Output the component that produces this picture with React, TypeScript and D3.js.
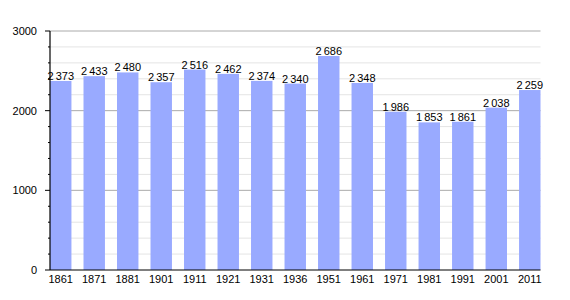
import React from "react";
import * as d3 from "d3";

const years = ["1861","1871","1881","1901","1911","1921","1931","1936","1951","1961","1971","1981","1991","2001","2011"];
const population = [2373,2433,2480,2357,2516,2462,2374,2340,2686,2348,1986,1853,1861,2038,2259];
const majorTicks = [0,1000,2000,3000];
const minorTicks = d3.range(0, 3001, 200);

export default function App() {
  const W = 570, H = 300;
  const left = 50, right = 540.5, top = 31, bottom = 270;
  const x = d3.scaleBand<string>().domain(years).range([left, right]).paddingInner(0.36).paddingOuter(0);
  const y = d3.scaleLinear().domain([0, 3000]).range([bottom, top]);
  const fmt = (v: number) => d3.format(",")(v).replace(",", "\u2009");
  const font = "'Liberation Sans', Arial, sans-serif";
  return (
    <svg width={W} height={H} style={{ position: "absolute", left: 0, top: 0 }} fontFamily={font}>
      <rect width={W} height={H} fill="#fff" />
      {minorTicks.filter(v => v % 1000 !== 0).map(v => (
        <line key={"g" + v} x1={left} x2={right} y1={y(v)} y2={y(v)} stroke="#e4e4e4" strokeWidth={1} />
      ))}
      {majorTicks.filter(v => v !== 0).map(v => (
        <line key={"M" + v} x1={left} x2={right} y1={y(v)} y2={y(v)} stroke="#aaaaaa" strokeWidth={1} />
      ))}
      {years.map((yr, i) => (
        <rect key={yr} x={x(yr)!} width={x.bandwidth()} y={y(population[i])} height={bottom - y(population[i])} fill="#99aaff" />
      ))}
      {years.map((yr, i) => (
        <text key={"v" + yr} x={x(yr)! + x.bandwidth() / 2} y={y(population[i]) - 1} textAnchor="middle" fontSize={11} fill="#000">
          {fmt(population[i])}
        </text>
      ))}
      {minorTicks.filter(v => v % 1000 !== 0).map(v => (
        <line key={"mt" + v} x1={48} x2={left} y1={y(v)} y2={y(v)} stroke="#000" strokeWidth={1} />
      ))}
      {majorTicks.map(v => (
        <line key={"Mt" + v} x1={45} x2={left} y1={y(v)} y2={y(v)} stroke="#000" strokeWidth={1} />
      ))}
      {majorTicks.map(v => (
        <text key={"yl" + v} x={37} y={y(v) + 4} textAnchor="end" fontSize={11} fill="#000">{v}</text>
      ))}
      <line x1={left} x2={left} y1={top} y2={bottom} stroke="#000" strokeWidth={1.2} />
      <line x1={left} x2={right} y1={bottom} y2={bottom} stroke="#000" strokeWidth={1.2} />
      {years.map(yr => (
        <text key={"xl" + yr} x={x(yr)! + x.bandwidth() / 2} y={282.5} textAnchor="middle" fontSize={11} fill="#000">{yr}</text>
      ))}
    </svg>
  );
}
